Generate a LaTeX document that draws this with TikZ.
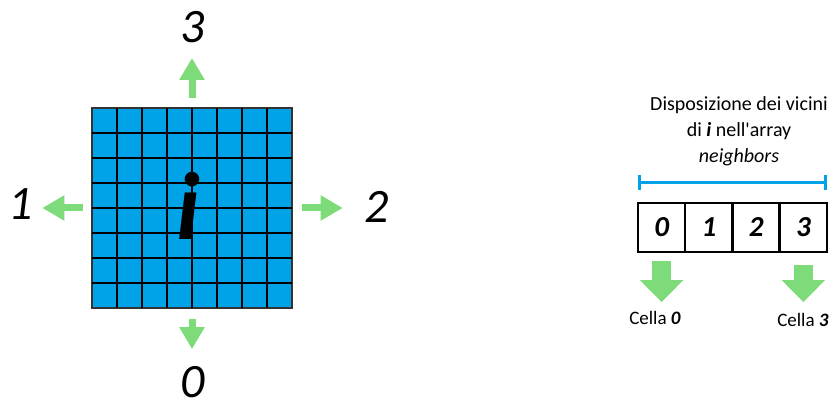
\documentclass[tikz,border=0pt]{standalone}
\usepackage{fontspec}
\setmainfont{Carlito}[Ligatures=TeXOff]
\usetikzlibrary{positioning, calc, arrows.meta}
\definecolor{cellblue}{HTML}{00A2E8}
\definecolor{arrowgreen}{HTML}{7DDB7A}

\begin{document}
\begin{tikzpicture}[
    x=1pt, y=1pt,
    gridbox/.style={rectangle, draw=black!80, line width=1.5pt, fill=cellblue, minimum size=200pt, inner sep=0pt, outer sep=0pt},
    gridline/.style={draw, line width=1.5pt},
    dirlabel/.style={font=\fontsize{48}{48}\selectfont\itshape, inner sep=0pt},
    nbarrow/.style={draw=arrowgreen, line width=7pt, -{Triangle[length=22pt, width=24pt]}},
    bigarrow/.style={draw=arrowgreen, line width=19pt, -{Triangle[length=22pt, width=42pt]}},
    cell/.style={rectangle, draw, line width=2.5pt, minimum width=47.25pt, minimum height=49pt, inner sep=0pt, outer sep=0pt, font=\fontsize{29}{29}\selectfont\bfseries\itshape},
    bar/.style={draw=cellblue, line width=3pt, {Bar[width=15pt]}-{Bar[width=15pt]}},
    cellnote/.style={font=\fontsize{19}{19}\selectfont, inner sep=0pt}
]
\useasboundingbox (0,0) rectangle (832,407);

% Nodes
\node [gridbox] (grid) at (192,199) {};
\foreach \k in {1,...,7} {
  \path [gridline] ($(grid.south west)+(\k*25,0)$) -- ($(grid.north west)+(\k*25,0)$);
  \path [gridline] ($(grid.south west)+(0,\k*25)$) -- ($(grid.south east)+(0,\k*25)$);
}
\node [font=\fontsize{96}{96}\selectfont\bfseries\itshape] (idx) at (188,201) {i};

\node [dirlabel] (n3) at (193,380) {3};
\node [dirlabel] (n1) at (21,203) {1};
\node [dirlabel] (n2) at (377,200) {2};
\node [dirlabel] (n0) at (193,25) {0};

\node [align=center, font=\fontsize{20}{26}\selectfont] (title) at (739,276)
  {Disposizione dei vicini\\ di \textbf{\textit{i}} nell'array\\ \textit{neighbors}};

\node [cell] (c0) at (661.6,179.5) {0};
\node [cell, right=0pt of c0] (c1) {1};
\node [cell, right=0pt of c1] (c2) {2};
\node [cell, right=0pt of c2] (c3) {3};

\node [cellnote] (cella0) at (655,89) {Cella \textbf{\textit{0}}};
\node [cellnote] (cella3) at (803,87) {Cella \textbf{\textit{3}}};

% Lines
\path [nbarrow, shorten <=10pt, shorten >=15pt] (grid.north) -- (grid.north |- n3.south);
\path [nbarrow, shorten <=9pt, shorten >=9pt] (grid.west) -- (grid.west -| n1.east);
\path [nbarrow, shorten <=10pt, shorten >=22pt] (grid.east) -- (grid.east -| n2.west);
\path [nbarrow, shorten <=11pt, shorten >=17pt] (grid.south) -- (grid.south |- n0.north);

\path [bar] ([yshift=20pt]c0.north west) -- ([yshift=20pt]c3.north east);
\path [bigarrow, shorten <=9pt, shorten >=9pt] (c0.south) -- (c0.south |- cella0.north);
\path [bigarrow, shorten <=13pt, shorten >=11pt] (c3.south) -- (c3.south |- cella3.north);

\end{tikzpicture}
\end{document}
